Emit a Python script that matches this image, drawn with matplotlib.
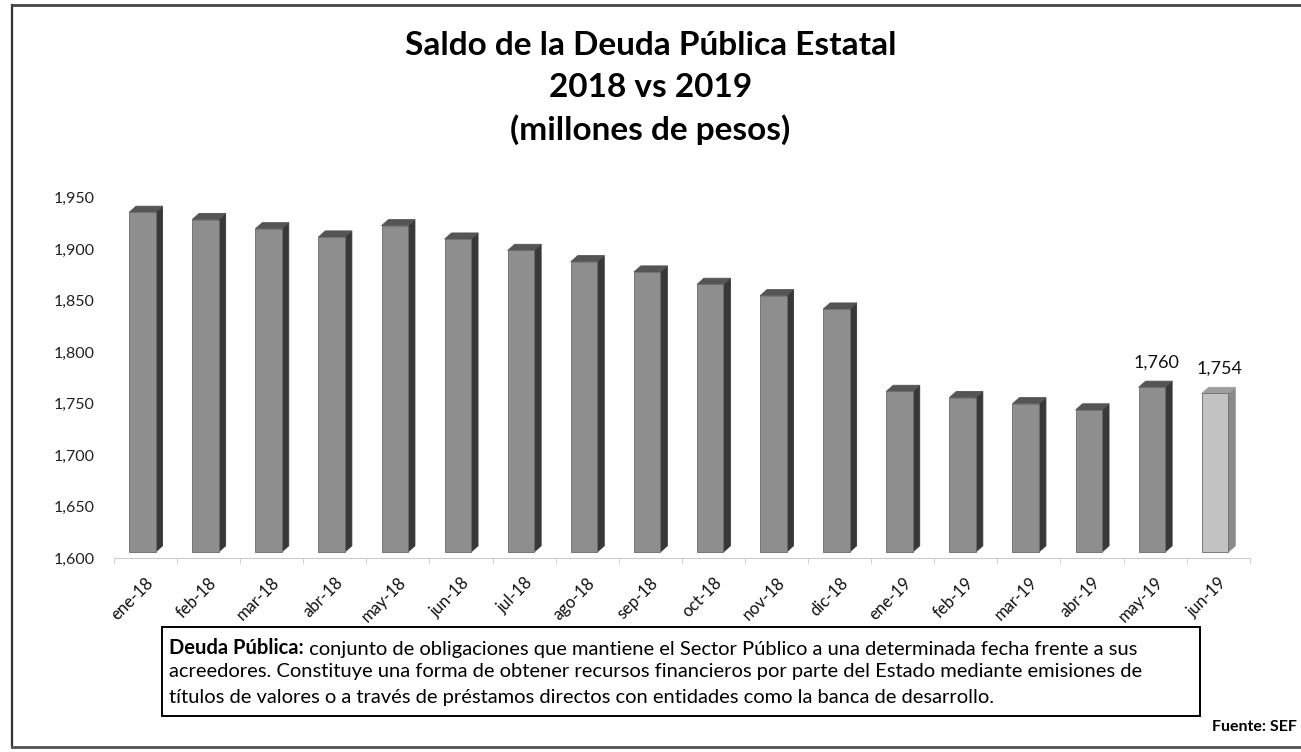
import matplotlib.pyplot as plt
import matplotlib.transforms as mtransforms
from matplotlib.patches import Polygon, Rectangle
import numpy as np

plt.rcParams['font.family'] = ['Lato', 'DejaVu Sans']

# datos (millones de pesos)
meses = ['ene-18', 'feb-18', 'mar-18', 'abr-18', 'may-18', 'jun-18',
         'jul-18', 'ago-18', 'sep-18', 'oct-18', 'nov-18', 'dic-18',
         'ene-19', 'feb-19', 'mar-19', 'abr-19', 'may-19', 'jun-19']
saldo = [1930, 1923, 1914, 1906, 1917, 1904,
         1893, 1882, 1872, 1860, 1849, 1836,
         1756, 1750, 1744, 1738, 1760, 1754]
etiquetas = {16: '1,760', 17: '1,754'}

fig = plt.figure(figsize=(13.01, 7.52), dpi=100)
ax = fig.add_axes([0.0876, 0.258, 0.873, 0.479])

x = np.arange(len(meses))
base = 1600
ancho = 0.42
dx = -0.05          # desplazamiento de la cara frontal
lado = 0.11         # ancho de la cara lateral
prof = 6            # altura aparente de la profundidad

# efecto 3D: todo sube un poco sobre el eje
off = mtransforms.ScaledTranslation(0, 0.06, fig.dpi_scale_trans)
tr = ax.transData + off

for i, v in enumerate(saldo):
    if i == len(saldo) - 1:
        c_frente, c_lado, c_tapa = '#c2c2c2', '#8a8a8a', '#9e9e9e'
    else:
        c_frente, c_lado, c_tapa = '#8e8e8e', '#383838', '#555555'
    x0 = i + dx - ancho / 2
    x1 = i + dx + ancho / 2
    frente = Rectangle((x0, base), ancho, v - base, facecolor=c_frente,
                       edgecolor='#6a6a6a', linewidth=0.6, transform=tr)
    cara = Polygon([(x1, base), (x1 + lado, base + prof),
                    (x1 + lado, v + prof), (x1, v)],
                   closed=True, facecolor=c_lado, edgecolor=c_lado,
                   linewidth=0.6, transform=tr)
    tapa = Polygon([(x0, v), (x1, v), (x1 + lado, v + prof),
                    (x0 + lado, v + prof)],
                   closed=True, facecolor=c_tapa, edgecolor=c_tapa,
                   linewidth=0.6, transform=tr)
    ax.add_patch(cara)
    ax.add_patch(tapa)
    ax.add_patch(frente)
    if i in etiquetas:
        ax.annotate(etiquetas[i], (i + 0.02, v + prof), xytext=(0, 12),
                    textcoords='offset points', ha='center', va='bottom',
                    fontsize=13, color='#111111')

ax.set_xlim(-0.5, len(meses) - 0.5)
ax.set_ylim(1600, 1950)
ax.set_yticks(np.arange(1600, 1951, 50))
ax.set_yticklabels([f'{t:,}' for t in range(1600, 1951, 50)],
                   fontsize=11.5, color='#222222')
ax.tick_params(axis='y', length=0, pad=14)

ax.set_xticks(x)
ax.set_xticklabels(meses, rotation=45, ha='right', rotation_mode='anchor',
                   fontsize=12, color='#111111')
ax.tick_params(axis='x', length=0, pad=12)
ax.set_xticks(np.arange(-0.5, len(meses)), minor=True)
ax.tick_params(axis='x', which='minor', length=4, color='#cccccc')

for s in ['top', 'right', 'left']:
    ax.spines[s].set_visible(False)
ax.spines['bottom'].set_color('#cccccc')

# título
fig.text(0.5, 0.940, 'Saldo de la Deuda Pública Estatal', ha='center',
         va='center', fontsize=24, fontweight='bold')
fig.text(0.5, 0.883, '2018 vs 2019', ha='center', va='center',
         fontsize=24, fontweight='bold')
fig.text(0.5, 0.827, '(millones de pesos)', ha='center', va='center',
         fontsize=24, fontweight='bold')

# recuadro con la definición
fig.patches.append(Rectangle((162 / 1301, 1 - 716 / 752), 1038 / 1301,
                             89 / 752, transform=fig.transFigure,
                             facecolor='none', edgecolor='black',
                             linewidth=1.4))
t1 = fig.text(169 / 1301, 1 - 648 / 752, 'Deuda Pública:', fontsize=14.5,
              fontweight='bold', va='center')
ax.annotate(' conjunto de obligaciones que mantiene el Sector Público a una '
            'determinada fecha frente a sus', xy=(1, 0), xycoords=t1,
            va='bottom', ha='left', fontsize=14.5, annotation_clip=False)
fig.text(169 / 1301, 1 - 672 / 752,
         'acreedores. Constituye una forma de obtener recursos financieros '
         'por parte del Estado mediante emisiones de', fontsize=14.5,
         va='center')
fig.text(169 / 1301, 1 - 697 / 752,
         'títulos de valores o a través de préstamos directos con entidades '
         'como la banca de desarrollo.', fontsize=14.5, va='center')

fig.text(1297 / 1301, 1 - 727 / 752, 'Fuente: SEF', ha='right',
         va='center', fontsize=11.5, fontweight='bold')

# marco exterior
fig.lines.append(plt.Line2D([12 / 1301, 12 / 1301], [1 - 5 / 752, 1 - 747 / 752],
                            transform=fig.transFigure, color='#333333',
                            linewidth=1.6))
fig.lines.append(plt.Line2D([12 / 1301, 1], [1 - 5 / 752, 1 - 5 / 752],
                            transform=fig.transFigure, color='#444444',
                            linewidth=2))
fig.lines.append(plt.Line2D([12 / 1301, 1], [1 - 747 / 752, 1 - 747 / 752],
                            transform=fig.transFigure, color='#555555',
                            linewidth=2))

fig.savefig('out.png', dpi=100)
